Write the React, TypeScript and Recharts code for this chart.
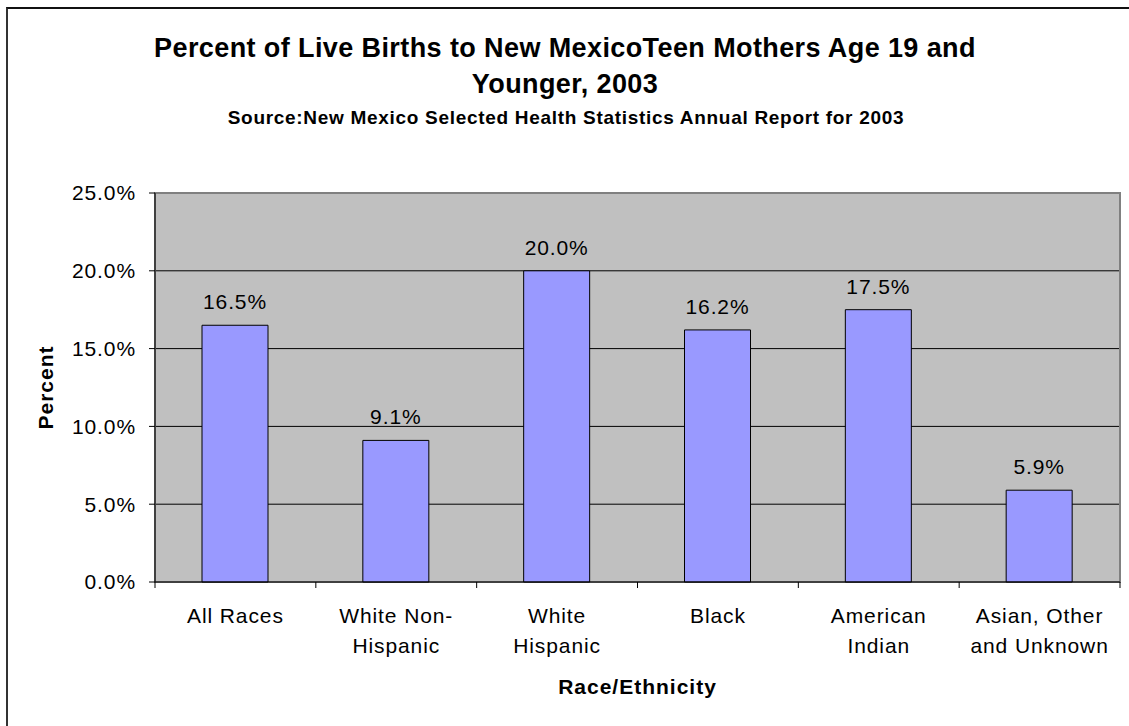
import React from 'react';
import {
  BarChart,
  Bar,
  XAxis,
  YAxis,
  CartesianGrid,
  LabelList,
  Label,
  ReferenceArea,
} from 'recharts';

const categories = [
  'All Races',
  'White Non-\nHispanic',
  'White\nHispanic',
  'Black',
  'American\nIndian',
  'Asian, Other\nand Unknown',
];
const percents = [16.5, 9.1, 20.0, 16.2, 17.5, 5.9];
const yTicks = [0, 5, 10, 15, 20, 25];

const data = categories.map((name, i) => ({ name, value: percents[i] }));

const FONT = '"Liberation Sans", Arial, sans-serif';

function CategoryTick(props: any) {
  const { x, y, payload, index, visibleTicksCount } = props;
  const half = payload.offset || 80.4;
  const lines = String(payload.value).split('\n');
  const last = index === (visibleTicksCount ?? categories.length) - 1;
  return (
    <g>
      <line x1={x - half} y1={y} x2={x - half} y2={y + 6} stroke="#000" />
      {last && <line x1={x + half} y1={y} x2={x + half} y2={y + 6} stroke="#000" />}
      <text x={x} y={y + 41} textAnchor="middle" fontSize={21} fontFamily={FONT} fill="#000" letterSpacing={0.9}>
        {lines.map((l, i) => (
          <tspan key={i} x={x} dy={i === 0 ? 0 : 30}>
            {l}
          </tspan>
        ))}
      </text>
    </g>
  );
}

export default function App() {
  return (
    <div style={{ position: 'absolute', left: 0, top: 0, width: 1129, height: 726, overflow: 'hidden', background: '#fff' }}>
      <div
        style={{
          position: 'absolute',
          left: 6,
          top: 7,
          width: 1300,
          height: 900,
          borderLeft: '2px solid #333',
          borderTop: '2px solid #111',
        }}
      />
      <BarChart
        width={1129}
        height={726}
        data={data}
        margin={{ top: 193, right: 9, bottom: 0, left: 0 }}
        barSize={66}
        style={{ position: 'absolute', left: 0, top: 0, fontFamily: FONT }}
      >
        <text x={565} y={57} textAnchor="middle" fontSize={27} fontWeight="bold" fontFamily={FONT} fill="#000" letterSpacing={0.4}>
          Percent of Live Births to New MexicoTeen Mothers Age 19 and
        </text>
        <text x={565} y={93} textAnchor="middle" fontSize={27} fontWeight="bold" fontFamily={FONT} fill="#000" letterSpacing={0.4}>
          Younger, 2003
        </text>
        <text x={566} y={124} textAnchor="middle" fontSize={19} fontWeight="bold" fontFamily={FONT} fill="#000" letterSpacing={0.7}>
          Source:New Mexico Selected Health Statistics Annual Report for 2003
        </text>
        <CartesianGrid fill="#C0C0C0" stroke="#000" vertical={false} />
        <ReferenceArea y1={0} y2={25} fill="none" stroke="#808080" strokeWidth={2} />
        <XAxis
          dataKey="name"
          height={144}
          interval={0}
          tickLine={false}
          tickSize={0}
          tickMargin={0}
          axisLine={{ stroke: '#000' }}
          tick={<CategoryTick />}
        >
          <Label
            content={(p: any) => {
              const vb = p.viewBox || {};
              return (
                <text x={vb.x + vb.width / 2} y={694} textAnchor="middle" fontSize={21} fontWeight="bold" fontFamily={FONT} fill="#000" letterSpacing={1}>
                  Race/Ethnicity
                </text>
              );
            }}
          />
        </XAxis>
        <YAxis
          width={155}
          domain={[0, 25]}
          ticks={yTicks}
          tickFormatter={(v: number) => `${v.toFixed(1)}%`}
          tickSize={6}
          tickMargin={13}
          tickLine={{ stroke: '#000' }}
          axisLine={{ stroke: '#000' }}
          tick={{ fill: '#000', fontSize: 21, fontFamily: FONT, letterSpacing: 0.9 }}
        >
          <Label
            content={(p: any) => {
              const vb = p.viewBox || {};
              const cx = 45;
              const cy = vb.y + vb.height / 2;
              return (
                <text x={cx} y={cy} transform={`rotate(-90 ${cx} ${cy})`} textAnchor="middle" dominantBaseline="central" fontSize={21} fontWeight="bold" fontFamily={FONT} fill="#000" letterSpacing={1}>
                  Percent
                </text>
              );
            }}
          />
        </YAxis>
        <Bar dataKey="value" fill="#9999FF" stroke="#000" strokeWidth={1} isAnimationActive={false}>
          <LabelList
            dataKey="value"
            position="top"
            offset={16}
            formatter={(v: any) => `${Number(v).toFixed(1)}%`}
            style={{ fill: '#000', fontSize: 21, fontFamily: FONT, letterSpacing: 0.9 }}
          />
        </Bar>
      </BarChart>
    </div>
  );
}
